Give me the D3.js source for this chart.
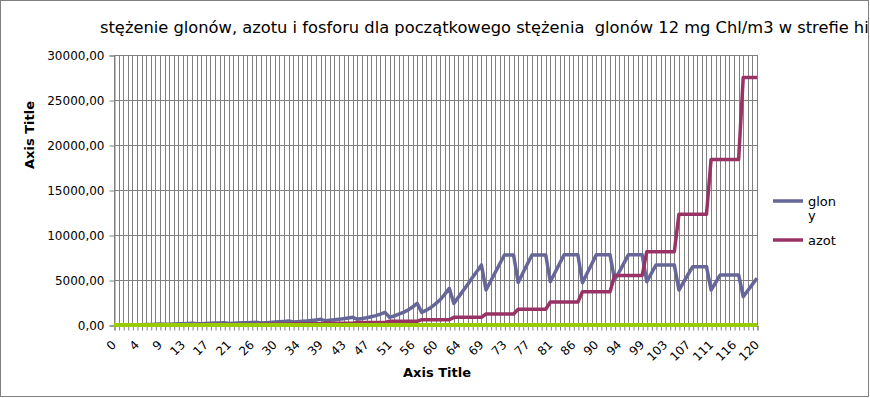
<!DOCTYPE html>
<html>
<head>
<meta charset="utf-8">
<script src="https://cdn.jsdelivr.net/npm/d3@7"></script>
<style>
  body { margin: 0; background: #fff; }
  svg { display: block; font-family: "DejaVu Sans", sans-serif; }
</style>
</head>
<body>
<div id="chart"></div>
<script>
// x categories are indices 0..140, only every 5th gets a label
const categoryCount = 141;
const xTickLabels = ["0","4","9","13","17","21","26","30","34","39","43","47","51","56","60",
  "64","69","73","77","81","86","90","94","99","103","107","111","116","120"];
const yTicks = [0, 5000, 10000, 15000, 20000, 25000, 30000];

const glony = [
  12, 16, 21, 28,
  20, 27, 35, 46, 60, 78, 100,
  70, 88, 108, 130, 150, 170, 190,
  130, 150, 170, 190, 210, 230, 250,
  180, 200, 220, 240, 260, 280, 300,
  230, 260, 290, 320, 360, 400, 440,
  330, 370, 410, 450, 500, 560, 630,
  480, 530, 580, 640, 700, 770, 850,
  630, 720, 810, 920, 1040, 1200, 1400,
  850, 1000, 1200, 1400, 1650, 2000, 2400,
  1400, 1650, 1950, 2350, 2800, 3400, 4070,
  2400, 3100, 3800, 4500, 5250, 5950, 6670,
  3890, 4860, 5840, 6810, 7780, 7780, 7780,
  4740, 5750, 6770, 7780, 7780, 7780, 7780,
  4810, 5800, 6800, 7800, 7800, 7800, 7800,
  4700, 5750, 6750, 7800, 7800, 7800, 7800,
  5000, 5900, 6850, 7800, 7800, 7800, 7800,
  4810, 5740, 6670, 6670, 6670, 6670, 6670,
  3890, 4750, 5620, 6480, 6480, 6480, 6480,
  3890, 4720, 5560, 5560, 5560, 5560, 5560,
  3150, 3830, 4510, 5190
];

const azot = [
  20, 20, 20, 20,
  25, 25, 25, 25, 25, 25, 25,
  35, 35, 35, 35, 35, 35, 35,
  45, 45, 45, 45, 45, 45, 45,
  65, 65, 65, 65, 65, 65, 65,
  95, 95, 95, 95, 95, 95, 95,
  140, 140, 140, 140, 140, 140, 140,
  200, 200, 200, 200, 200, 200, 200,
  290, 290, 290, 290, 290, 290, 290,
  410, 410, 410, 410, 410, 410, 410,
  590, 590, 590, 590, 590, 590, 590,
  850, 850, 850, 850, 850, 850, 850,
  1220, 1220, 1220, 1220, 1220, 1220, 1220,
  1750, 1750, 1750, 1750, 1750, 1750, 1750,
  2550, 2550, 2550, 2550, 2550, 2550, 2550,
  3700, 3700, 3700, 3700, 3700, 3700, 3700,
  5500, 5500, 5500, 5500, 5500, 5500, 5500,
  8150, 8150, 8150, 8150, 8150, 8150, 8150,
  12300, 12300, 12300, 12300, 12300, 12300, 12300,
  18400, 18400, 18400, 18400, 18400, 18400, 18400,
  27500, 27500, 27500, 27500
];

const fosfor = [
  0, 0, 0, 0,
  0, 0, 0, 0, 0, 0, 0,
  0, 0, 0, 0, 0, 0, 0,
  0, 0, 0, 0, 0, 0, 0,
  0, 0, 0, 0, 0, 0, 0,
  0, 0, 0, 0, 0, 0, 0,
  0, 0, 0, 0, 0, 0, 0,
  0, 0, 0, 0, 0, 0, 0,
  0, 0, 0, 0, 0, 0, 0,
  0, 0, 0, 0, 0, 0, 0,
  0, 0, 0, 0, 0, 0, 0,
  0, 0, 0, 0, 0, 0, 0,
  0, 0, 0, 0, 0, 0, 0,
  0, 0, 0, 0, 0, 0, 0,
  0, 0, 0, 0, 0, 0, 0,
  0, 0, 0, 0, 0, 0, 0,
  0, 0, 0, 0, 0, 0, 0,
  0, 0, 0, 0, 0, 0, 0,
  0, 0, 0, 0, 0, 0, 0,
  0, 0, 0, 0, 0, 0, 0,
  0, 0, 0, 0
];

const series = [
  { name: "glony", values: glony, color: "#666699", width: 3.5 },
  { name: "azot", values: azot, color: "#993366", width: 3.5 },
  { name: "fosfor", values: fosfor, color: "#99cc00", width: 4 }
];

const dims = { width: 870, height: 398 };
const plot = { left: 114, right: 757, top: 55, bottom: 325 };

const svg = d3.select("#chart").append("svg")
  .attr("width", dims.width)
  .attr("height", dims.height)
  .attr("viewBox", [0, 0, dims.width, dims.height]);

svg.append("rect")
  .attr("x", 0.5).attr("y", 0.5)
  .attr("width", dims.width - 2).attr("height", dims.height - 2)
  .attr("fill", "#fff").attr("stroke", "#808080");

const categories = d3.range(categoryCount);
const x = d3.scalePoint().domain(categories).range([plot.left, plot.right]);
const y = d3.scaleLinear().domain([0, 30000]).range([plot.bottom, plot.top]);

// grid
svg.append("g").selectAll("line.v")
  .data(categories)
  .join("line")
  .attr("x1", d => Math.round(x(d)) + 0.5).attr("x2", d => Math.round(x(d)) + 0.5)
  .attr("y1", plot.top).attr("y2", plot.bottom)
  .attr("stroke", "#808080");

svg.append("g").selectAll("line.h")
  .data(yTicks)
  .join("line")
  .attr("x1", plot.left).attr("x2", plot.right)
  .attr("y1", d => Math.round(y(d)) + 0.5).attr("y2", d => Math.round(y(d)) + 0.5)
  .attr("stroke", "#808080");

// y axis
const fmt = d => d3.format(".2f")(d).replace(".", ",");
const yAxis = svg.append("g")
  .attr("transform", `translate(${plot.left + 0.5},0.5)`)
  .call(d3.axisLeft(y).tickValues(yTicks).tickFormat(fmt).tickSize(5).tickPadding(5));
yAxis.select(".domain").attr("stroke", "#808080");
yAxis.selectAll(".tick line").attr("stroke", "#808080");
yAxis.selectAll("text").attr("font-size", 12).attr("fill", "#000")
  .attr("font-family", "DejaVu Sans");

// x axis
const xAxis = svg.append("g")
  .attr("transform", `translate(0.5,${plot.bottom + 0.5})`)
  .call(d3.axisBottom(x).tickValues(categories)
    .tickFormat(d => d % 5 === 0 ? xTickLabels[d / 5] : "").tickSize(5));
xAxis.select(".domain").attr("stroke", "#808080");
xAxis.selectAll(".tick line").attr("stroke", "#808080");
xAxis.selectAll("text")
  .attr("font-size", 12).attr("fill", "#000").attr("font-family", "DejaVu Sans")
  .attr("text-anchor", "end")
  .attr("dy", null).attr("y", 0)
  .attr("transform", "translate(2,20) rotate(-45)");

// lines
const line = d3.line().x((d, i) => x(i)).y(d => y(d));
svg.append("g").selectAll("path")
  .data(series)
  .join("path")
  .attr("d", s => line(s.values))
  .attr("fill", "none")
  .attr("stroke", s => s.color)
  .attr("stroke-width", s => s.width)
  .attr("stroke-linejoin", "round");

// titles
svg.append("text")
  .attr("x", 100).attr("y", 33)
  .attr("font-size", 16.3)
  .attr("xml:space", "preserve")
  .style("white-space", "pre")
  .text("stężenie glonów, azotu i fosforu dla początkowego stężenia  glonów 12 mg Chl/m3 w strefie hi");

svg.append("text")
  .attr("x", 437).attr("y", 377)
  .attr("text-anchor", "middle")
  .attr("font-size", 13).attr("font-weight", "bold")
  .text("Axis Title");

svg.append("text")
  .attr("transform", "translate(34,135) rotate(-90)")
  .attr("text-anchor", "middle")
  .attr("font-size", 13).attr("font-weight", "bold")
  .text("Axis Title");

// legend
const legendItems = [
  { lines: ["glon", "y"], color: series[0].color, y: 201 },
  { lines: ["azot"], color: series[1].color, y: 240 }
];
const lg = svg.append("g").selectAll("g")
  .data(legendItems)
  .join("g")
  .attr("transform", d => `translate(773,${d.y})`);
lg.append("line")
  .attr("x1", 0).attr("x2", 30)
  .attr("stroke", d => d.color).attr("stroke-width", 3.5);
lg.append("text")
  .attr("x", 35).attr("y", 5)
  .attr("font-size", 13)
  .selectAll("tspan")
  .data(d => d.lines)
  .join("tspan")
  .attr("x", 35)
  .attr("dy", (d, i) => i === 0 ? 0 : 14)
  .text(d => d);
</script>
</body>
</html>
